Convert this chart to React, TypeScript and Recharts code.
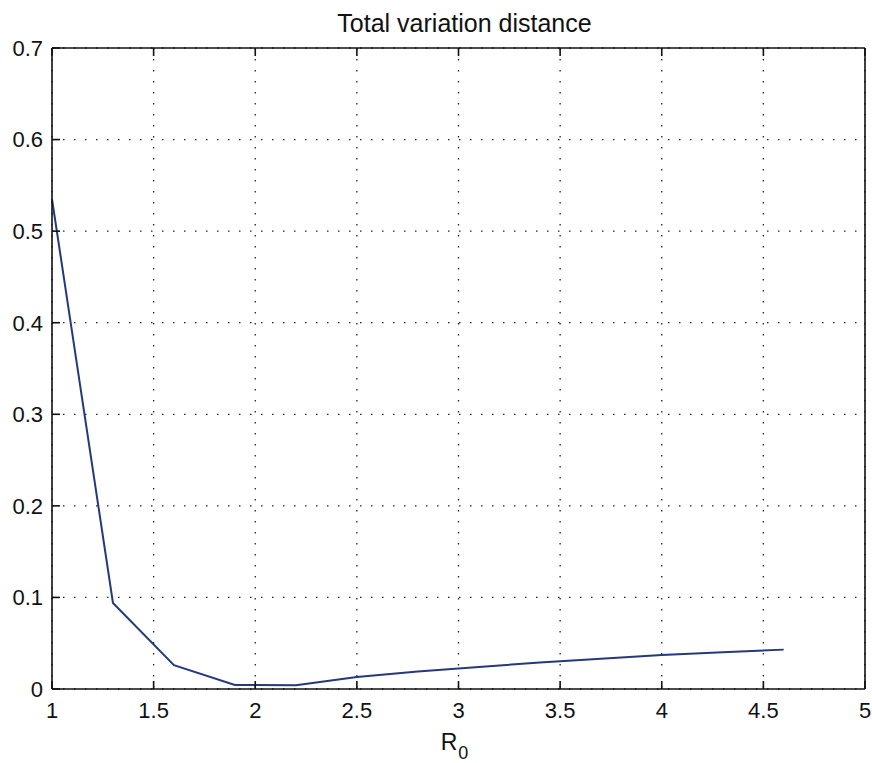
import React from "react";
import { LineChart, Line, XAxis, YAxis, CartesianGrid, Label } from "recharts";

const r0Values = [1, 1.3, 1.6, 1.9, 2.2, 2.5, 2.8, 3.1, 3.4, 3.7, 4.0, 4.3, 4.6];
const tvdValues = [0.535, 0.094, 0.026, 0.0045, 0.004, 0.013, 0.019, 0.024, 0.029, 0.033, 0.037, 0.04, 0.043];
const xTicks = [1, 1.5, 2, 2.5, 3, 3.5, 4, 4.5, 5];
const yTicks = [0, 0.1, 0.2, 0.3, 0.4, 0.5, 0.6, 0.7];
const titleText = "Total variation distance";
const xLabelMain = "R";
const xLabelSub = "0";

const data = r0Values.map((r, i) => ({ r0: r, tvd: tvdValues[i] }));

const FONT = "'Liberation Sans', Arial, sans-serif";

const XTick = (props: any) => (
  <text x={props.x} y={props.y} dy="0.71em" textAnchor="middle" fontFamily={FONT} fontSize={22} fill="#111">
    {String(props.payload.value)}
  </text>
);

const YTick = (props: any) => (
  <text x={props.x} y={props.y} dy="0.355em" textAnchor="end" fontFamily={FONT} fontSize={22} fill="#111">
    {String(props.payload.value)}
  </text>
);

const XLabel = (props: any) => {
  const vb = props.viewBox || {};
  const cx = vb.x + vb.width / 2;
  return (
    <text x={cx - 4} y={vb.y + 61} textAnchor="middle" fontFamily={FONT} fontSize={23} fill="#111">
      {xLabelMain}
      <tspan dx={1} dy={9} fontSize={18}>{xLabelSub}</tspan>
    </text>
  );
};

export default function App() {
  return (
    <div style={{ position: "absolute", left: 0, top: 0, width: 872, height: 763, background: "#fff" }}>
      <div
        style={{
          position: "absolute",
          left: 58,
          width: 813,
          top: 8,
          textAlign: "center",
          fontFamily: FONT,
          fontSize: 25,
          color: "#111",
          lineHeight: "30px",
        }}
      >
        {titleText}
      </div>
      <LineChart
        width={872}
        height={763}
        data={data}
        margin={{ top: 47, right: 6, bottom: 34, left: 0 }}
        style={{ position: "absolute", left: 0, top: 0 }}
      >
        <CartesianGrid
          xAxisId="main"
          yAxisId="main"
          stroke="#222"
          strokeDasharray="1.5 9.5"
          strokeWidth={1.3}
        />
        <XAxis
          xAxisId="main"
          dataKey="r0"
          type="number"
          domain={[1, 5]}
          ticks={xTicks}
          height={40}
          tickSize={-8}
          tickMargin={21}
          tick={XTick}
          stroke="#111"
          strokeWidth={1.6}
          tickLine={{ stroke: "#111", strokeWidth: 1.6 }}
          interval={0}
        >
          <Label content={XLabel} />
        </XAxis>
        <XAxis
          xAxisId="top"
          orientation="top"
          dataKey="r0"
          type="number"
          domain={[1, 5]}
          ticks={xTicks}
          height={1}
          tickSize={-8}
          tickMargin={0}
          tickFormatter={() => ""}
          stroke="#111"
          strokeWidth={1.6}
          tickLine={{ stroke: "#111", strokeWidth: 1.6 }}
          interval={0}
        />
        <YAxis
          yAxisId="main"
          type="number"
          domain={[0, 0.7]}
          ticks={yTicks}
          width={52}
          tickSize={-8}
          tickMargin={17}
          tick={YTick}
          stroke="#111"
          strokeWidth={1.6}
          tickLine={{ stroke: "#111", strokeWidth: 1.6 }}
          interval={0}
        />
        <YAxis
          yAxisId="right"
          orientation="right"
          type="number"
          domain={[0, 0.7]}
          ticks={yTicks}
          width={1}
          tickSize={-8}
          tickMargin={0}
          tickFormatter={() => ""}
          stroke="#111"
          strokeWidth={1.6}
          tickLine={{ stroke: "#111", strokeWidth: 1.6 }}
          interval={0}
        />
        <Line
          xAxisId="main"
          yAxisId="main"
          type="linear"
          dataKey="tvd"
          stroke="#26397a"
          strokeWidth={2}
          dot={false}
          isAnimationActive={false}
        />
      </LineChart>
    </div>
  );
}
